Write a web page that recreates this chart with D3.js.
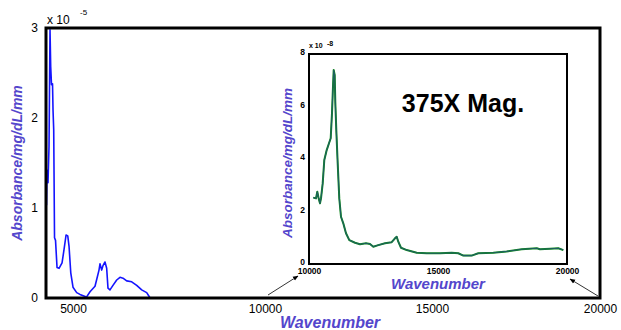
<!DOCTYPE html>
<html>
<head>
<meta charset="utf-8">
<script src="https://cdn.jsdelivr.net/npm/d3@7"></script>
<style>
  body { margin: 0; background: #fff; }
  text { font-family: "Liberation Sans", Arial, Helvetica, sans-serif; }
</style>
</head>
<body>
<svg id="chart" width="621" height="330"></svg>
<script>
// main spectrum, absorbance in units of 1e-5
const mainWave = [4313, 4326, 4352, 4378, 4404, 4422, 4443, 4469, 4482, 4500, 4521, 4547, 4586, 4638, 4716, 4768, 4820, 4864, 4898, 4942, 5000, 5096, 5182, 5351, 5443, 5573, 5625, 5677, 5703, 5747, 5781, 5833, 5877, 5911, 5963, 6041, 6138, 6224, 6302, 6398, 6529, 6659, 6789, 6919, 6979, 7005];
const mainAbs = [1.03, 1.42, 1.28, 1.68, 2.98, 2.57, 2.37, 2.38, 2.09, 1.87, 0.67, 0.64, 0.34, 0.33, 0.39, 0.54, 0.70, 0.69, 0.57, 0.28, 0.12, 0.06, 0.04, 0.01, 0.07, 0.13, 0.22, 0.31, 0.38, 0.31, 0.36, 0.40, 0.33, 0.11, 0.09, 0.14, 0.20, 0.23, 0.22, 0.19, 0.18, 0.14, 0.09, 0.06, 0.02, 0.00];

// inset (375X), absorbance in units of 1e-8
const insetWave = [10167, 10271, 10322, 10375, 10426, 10465, 10531, 10593, 10686, 10775, 10841, 10891, 10930, 10957, 10996, 11019, 11058, 11112, 11174, 11240, 11329, 11434, 11562, 11783, 11977, 12209, 12364, 12492, 12686, 12946, 13205, 13333, 13399, 13461, 13566, 13787, 14175, 14562, 15078, 15531, 15787, 15981, 16306, 16562, 17143, 17663, 18244, 18826, 18953, 19341, 19663, 19857];
const insetAbs = [2.53, 2.50, 2.75, 2.50, 2.31, 2.50, 3.07, 3.96, 4.34, 4.60, 4.79, 5.74, 6.75, 7.39, 7.20, 6.18, 5.10, 3.84, 2.50, 1.80, 1.55, 1.17, 0.91, 0.81, 0.75, 0.79, 0.76, 0.66, 0.72, 0.79, 0.83, 0.98, 1.04, 0.85, 0.62, 0.53, 0.43, 0.41, 0.41, 0.43, 0.41, 0.32, 0.32, 0.41, 0.43, 0.48, 0.56, 0.60, 0.56, 0.58, 0.60, 0.53];

const mainXTicks = [5000, 10000, 15000, 20000];
const mainYTicks = [0, 1, 2, 3];
const insetXTicks = [10000, 15000, 20000];
const insetYTicks = [0, 2, 4, 6, 8];

const titleColor = "#5446cc";
const svg = d3.select("#chart");

// ---- main plot ----
const x = d3.scaleLinear()
    .domain([4300, 5000, 10000, 15000, 20000])
    .range([46, 73, 265, 432, 600]);
const y = d3.scaleLinear().domain([0, 3]).range([298, 28]);

svg.append("g")
    .attr("transform", "translate(46,0)")
    .call(d3.axisLeft(y).tickValues(mainYTicks).tickSize(0).tickPadding(8).tickFormat(d3.format("d")))
    .call(g => g.select(".domain").remove())
    .selectAll("text").attr("font-size", 12).attr("fill", "#000")
    .style("font-family", "Liberation Sans, Arial, sans-serif");

svg.append("g")
    .attr("transform", "translate(0,298)")
    .call(d3.axisBottom(x).tickValues(mainXTicks).tickSize(0).tickPadding(6).tickFormat(d3.format("d")))
    .call(g => g.select(".domain").remove())
    .selectAll("text").attr("font-size", 12).attr("fill", "#000")
    .style("font-family", "Liberation Sans, Arial, sans-serif");

const mainLine = d3.line()
    .x((d, i) => x(mainWave[i]))
    .y(d => y(d));

svg.append("path")
    .datum(mainAbs)
    .attr("d", mainLine)
    .attr("fill", "none")
    .attr("stroke", "#1414ff")
    .attr("stroke-width", 1.6)
    .attr("stroke-linejoin", "round");

svg.append("rect")
    .attr("x", x.range()[0]).attr("y", y(3))
    .attr("width", x(20000) - x.range()[0]).attr("height", y(0) - y(3))
    .attr("fill", "none").attr("stroke", "#000").attr("stroke-width", 3);

svg.append("text").attr("x", 47).attr("y", 24).attr("font-size", 12).text("x 10");
svg.append("text").attr("x", 80).attr("y", 15).attr("font-size", 8).text("-5");

svg.append("text")
    .attr("transform", `translate(22,${(y(0) + y(3)) / 2}) rotate(-90)`)
    .attr("text-anchor", "middle")
    .attr("font-size", 14).attr("font-weight", "bold").attr("font-style", "italic")
    .attr("fill", titleColor)
    .text("Absorbance/mg/dL/mm");

svg.append("text")
    .attr("x", 330).attr("y", 328)
    .attr("text-anchor", "middle")
    .attr("font-size", 16).attr("font-weight", "bold").attr("font-style", "italic")
    .attr("fill", titleColor)
    .text("Wavenumber");

// ---- inset ----
const xi = d3.scaleLinear().domain([10000, 20000]).range([309, 567]);
const yi = d3.scaleLinear().domain([0, 8]).range([264, 54]);

svg.append("rect")
    .attr("x", 309).attr("y", 54).attr("width", 258).attr("height", 210)
    .attr("fill", "#fff");

svg.append("g")
    .attr("transform", "translate(309,-2)")
    .call(d3.axisLeft(yi).tickValues(insetYTicks).tickSize(0).tickPadding(4))
    .call(g => g.select(".domain").remove())
    .selectAll("text").attr("font-size", 8.5).attr("font-weight", "bold").attr("fill", "#000")
    .style("font-family", "Liberation Sans, Arial, sans-serif");

svg.append("g")
    .attr("transform", "translate(0,264)")
    .call(d3.axisBottom(xi).tickValues(insetXTicks).tickSize(0).tickPadding(4).tickFormat(d3.format("d")))
    .call(g => g.select(".domain").remove())
    .selectAll("text").attr("font-size", 8.5).attr("font-weight", "bold").attr("fill", "#000")
    .style("font-family", "Liberation Sans, Arial, sans-serif");

const insetLine = d3.line()
    .x((d, i) => xi(insetWave[i]))
    .y(d => yi(d));

svg.append("path")
    .datum(insetAbs)
    .attr("d", insetLine)
    .attr("fill", "none")
    .attr("stroke", "#138a1c")
    .attr("stroke-width", 2)
    .attr("stroke-linejoin", "round");
svg.append("path")
    .datum(insetAbs)
    .attr("d", insetLine)
    .attr("fill", "none")
    .attr("stroke", "#1c5f62")
    .attr("stroke-width", 1.1)
    .attr("stroke-linejoin", "round");

svg.append("rect")
    .attr("x", 309).attr("y", 54).attr("width", 258).attr("height", 210)
    .attr("fill", "none").attr("stroke", "#000").attr("stroke-width", 2);

svg.append("text").attr("x", 309).attr("y", 48).attr("font-size", 7).attr("font-weight", "bold").text("x 10");
svg.append("text").attr("x", 327).attr("y", 46).attr("font-size", 7).attr("font-weight", "bold").text("-8");

svg.append("text")
    .attr("x", 463).attr("y", 112)
    .attr("text-anchor", "middle")
    .attr("font-size", 25).attr("font-weight", "bold")
    .attr("fill", "#000")
    .text("375X Mag.");

svg.append("text")
    .attr("transform", `translate(292,${(yi(0) + yi(8)) / 2 + 4}) rotate(-90)`)
    .attr("text-anchor", "middle")
    .attr("font-size", 13.5).attr("font-weight", "bold").attr("font-style", "italic")
    .attr("fill", titleColor)
    .text("Absorbance/mg/dL/mm");

svg.append("text")
    .attr("x", 438).attr("y", 289)
    .attr("text-anchor", "middle")
    .attr("font-size", 15).attr("font-weight", "bold").attr("font-style", "italic")
    .attr("fill", titleColor)
    .text("Wavenumber");

// ---- arrows from main axis to inset axis ends ----
const defs = svg.append("defs");
defs.append("marker")
    .attr("id", "arrow")
    .attr("viewBox", "0 0 10 10")
    .attr("refX", 9).attr("refY", 5)
    .attr("markerWidth", 7).attr("markerHeight", 7)
    .attr("orient", "auto")
    .append("path")
    .attr("d", "M0,1 L10,5 L0,9 Z")
    .attr("fill", "#000");

const arrows = [
    {x1: x(10000) + 3, y1: 295, x2: xi(10000) - 11, y2: 276},
    {x1: x(20000) - 2, y1: 296, x2: xi(20000) + 3, y2: 279}
];
svg.selectAll(".arrow")
    .data(arrows)
    .enter().append("line")
    .attr("class", "arrow")
    .attr("x1", d => d.x1).attr("y1", d => d.y1)
    .attr("x2", d => d.x2).attr("y2", d => d.y2)
    .attr("stroke", "#000").attr("stroke-width", 0.8)
    .attr("marker-end", "url(#arrow)");
</script>
</body>
</html>
